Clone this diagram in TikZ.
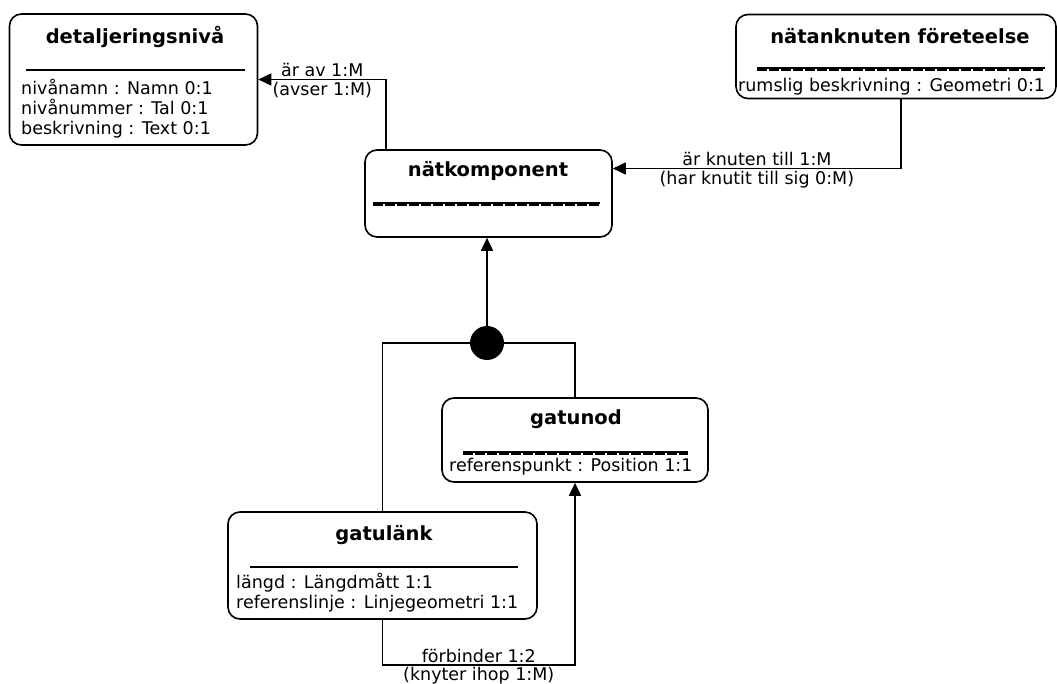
\documentclass[tikz,border=0pt]{standalone}
\usepackage{fontspec}
\setmainfont{DejaVu Sans}
\usetikzlibrary{arrows.meta}
\tikzset{
  classbox/.style={draw, rectangle, rounded corners=12pt, line width=1.6pt, inner sep=0pt},
  classname/.style={font=\fontsize{19.5}{22}\selectfont\bfseries, inner sep=0pt},
  attr/.style={font=\fontsize{17.5}{20}\selectfont, align=left, inner sep=0pt, anchor=north west},
  sepline/.style={line width=2.4pt},
  sepdash/.style={line width=1.2pt, dash pattern=on 10pt off 2pt},
  line/.style={line width=1.6pt},
  assoc/.style={line width=1.6pt, -{Triangle[length=13pt,width=12pt]}},
  lbl/.style={font=\fontsize{17.5}{20}\selectfont, inner sep=1.5pt},
}
\begin{document}
\begin{tikzpicture}[x=1pt,y=-1pt]
    \useasboundingbox (0,0) rectangle (1057,684);

    \node[classbox, minimum width=248, minimum height=131] (detalj) at (133.5,79.5) {};
    \node[classname] (detaljT) at (135,37) {detaljeringsnivå};
    \draw[sepline] (26,70) -- (245,70);
    \node[attr] (detaljA) at (21,79) {nivånamn : Namn 0:1\\nivånummer : Tal 0:1\\beskrivning : Text 0:1};

    \node[classbox, minimum width=320, minimum height=84] (natank) at (896,56.5) {};
    \node[classname] (natankT) at (900,36) {nätanknuten företeelse};
    \draw[sepline] (757,68) -- (1045,68);
    \draw[sepdash] (757,70) -- (1045,70);
    \node[attr] (natankA) at (738,78) {rumslig beskrivning : Geometri 0:1};

    \node[classbox, minimum width=247, minimum height=87] (natkomp) at (488.5,193.5) {};
    \node[classname] (natkompT) at (488,171) {nätkomponent};
    \draw[sepline] (373,203) -- (600,203);
    \draw[sepdash] (373,205) -- (600,205);

    \node[classbox, minimum width=266, minimum height=84] (gatunod) at (575,440) {};
    \node[classname] (gatunodT) at (576,419) {gatunod};
    \draw[sepline] (463,452) -- (688,452);
    \draw[sepdash] (463,454) -- (688,454);
    \node[attr] (gatunodA) at (449,458) {referenspunkt : Position 1:1};

    \node[classbox, minimum width=309, minimum height=107] (gatulank) at (382.5,565.5) {};
    \node[classname] (gatulankT) at (384,535) {gatulänk};
    \draw[sepline] (250,567) -- (518,567);
    \node[attr] (gatulankA) at (236,573) {längd : Längdmått 1:1\\referenslinje : Linjegeometri 1:1};

    \node[circle, fill, minimum size=34pt, inner sep=0pt] (gen) at (487,343) {};

    \draw[assoc] ([xshift=22pt]natkomp.north west) |- (detalj.east)
        node[lbl, pos=0.75, above] {är av 1:M}
        node[lbl, pos=0.75, below] {(avser 1:M)};
    \draw[assoc] ([xshift=5pt]natank.south) |- ([yshift=25pt]natkomp.east)
        node[lbl, pos=0.75, above] {är knuten till 1:M}
        node[lbl, pos=0.75, below] {(har knutit till sig 0:M)};
    \draw[assoc] (gen) -- (gen |- natkomp.south);
    \draw[line] (gatulank.north) |- (gen.center) -| (gatunod.north);
    \draw[assoc] (gatulank.south) -- ([yshift=-45pt]gatulank.south) -| (gatunod.south)
        node[lbl, pos=0.25, above] {förbinder 1:2}
        node[lbl, pos=0.25, below] {(knyter ihop 1:M)};
\end{tikzpicture}
\end{document}
